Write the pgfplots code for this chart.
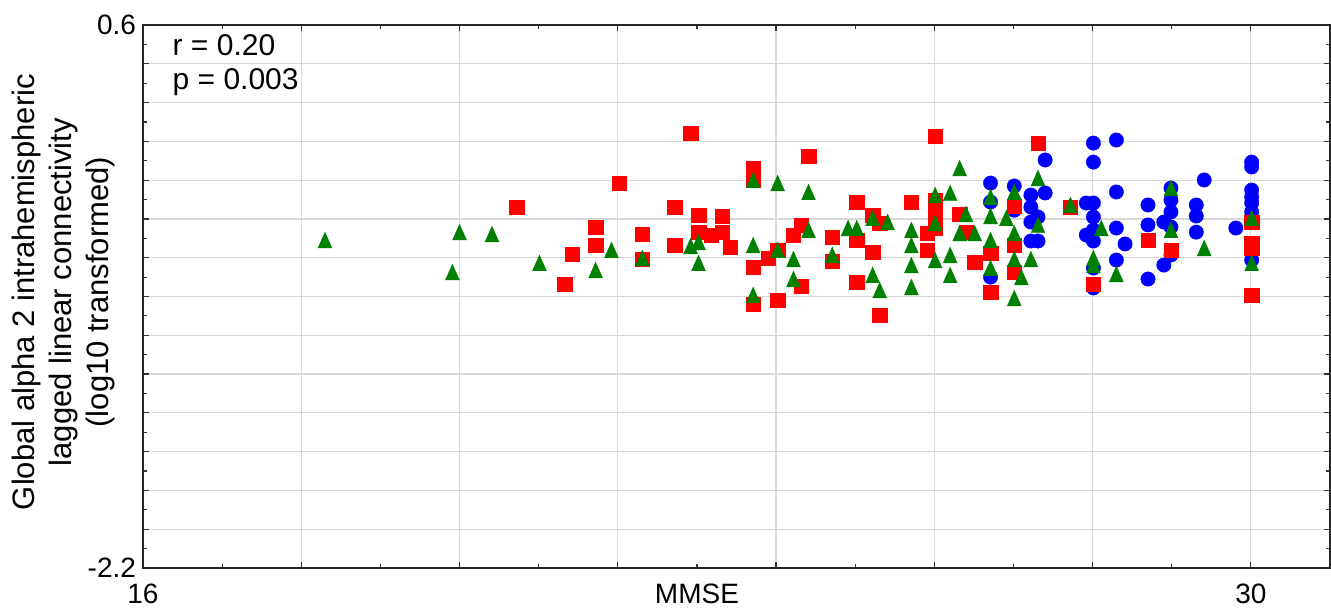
\documentclass[border=0pt]{standalone}
\usepackage{fontspec}
\setmainfont{Liberation Sans}
\usepackage{pgfplots}
\pgfplotsset{compat=1.18}
\usetikzlibrary{calc}
\definecolor{gridgray}{RGB}{216,216,216}
\definecolor{ptred}{RGB}{255,0,0}
\definecolor{ptgreen}{RGB}{0,128,0}
\definecolor{ptblue}{RGB}{0,0,255}

\begin{document}
\begin{tikzpicture}
\begin{axis}[
  scale only axis, width=593.5pt, height=271.5pt,
  xmin=16, xmax=31, ymin=-2.2, ymax=0.6,
  xtick={16,18,20,22,24,26,28,30}, xticklabels={16,,,,,,,30},
  ytick={-2.2,-2,-1.8,-1.6,-1.4,-1.2,-1,-0.8,-0.6,-0.4,-0.2,0,0.2,0.4,0.6},
  yticklabels={-2.2,,,,,,,,,,,,,,0.6},
  minor x tick num=1, minor y tick num=1,
  grid=major, grid style={gridgray, line width=0.6pt},
  axis line style={black!85, line width=1pt},
  major tick length=3pt, minor tick length=1.8pt,
  tick style={black!80, line width=0.6pt},
  tick label style={font=\fontsize{14}{16}\selectfont},
  xticklabel style={yshift=-4.5pt},
  extra x ticks={23}, extra x tick labels={MMSE},
  extra x tick style={grid=none, major tick length=0pt},
  ylabel={Global alpha 2 intrahemispheric\\lagged linear connectivity\\(log10 transformed)},
  ylabel style={align=center, font=\fontsize{15.5}{18.5}\selectfont,
    at={(axis description cs:0,0.5)}, anchor=south, inner sep=0pt, yshift=14pt, xshift=2.2pt},
  clip=false,
]
% MMSE in the upper range: blue circles
\addplot[only marks, mark=*, mark size=3.6pt, mark options={draw=ptblue, fill=ptblue, line width=0.2pt}]
  coordinates {
  (26.71,-0.215) (26.71,-0.313) (26.71,-0.700)
  (27.01,-0.230) (27.01,-0.355)
  (27.40,-0.096) (27.40,-0.266) (27.22,-0.277) (27.22,-0.339) (27.22,-0.416)
  (27.31,-0.390) (27.22,-0.514) (27.31,-0.514)
  (28.01,-0.009) (28.01,-0.107) (28.30,0.007)
  (27.92,-0.318) (28.01,-0.318) (28.01,-0.390) (28.01,-0.457) (27.92,-0.483)
  (28.01,-0.514) (28.01,-0.653) (28.01,-0.756)
  (28.30,-0.261) (28.30,-0.447) (28.41,-0.529) (28.30,-0.612)
  (28.70,-0.328) (28.70,-0.431) (28.70,-0.710)
  (28.99,-0.241) (28.99,-0.303) (28.99,-0.364) (28.90,-0.416) (28.99,-0.442)
  (28.99,-0.586) (28.90,-0.638)
  (29.41,-0.199) (29.31,-0.328) (29.31,-0.385) (29.31,-0.468)
  (29.81,-0.447)
  (30.01,-0.107) (30.01,-0.132) (30.01,-0.251) (30.01,-0.287) (30.01,-0.318)
  (30.01,-0.364) (30.01,-0.612)
  };
% red squares
\addplot[only marks, mark=square*, mark size=3.6pt, mark options={draw=ptred, fill=ptred, line width=0.2pt}]
  coordinates {
  (20.72,-0.339) (22.02,-0.215) (21.72,-0.442) (21.72,-0.535) (21.42,-0.581)
  (21.33,-0.736) (22.31,-0.478) (22.31,-0.607)
  (22.92,0.043) (22.72,-0.339) (22.72,-0.535) (23.02,-0.380) (23.02,-0.468)
  (23.18,-0.483) (23.32,-0.385) (23.32,-0.468) (23.42,-0.545)
  (23.71,-0.138) (23.71,-0.199) (24.41,-0.076) (23.71,-0.648) (23.90,-0.602)
  (24.02,-0.560) (24.22,-0.483) (24.32,-0.431) (24.32,-0.746) (23.71,-0.839)
  (24.02,-0.818)
  (26.01,0.028) (25.02,-0.313) (25.22,-0.380) (25.31,-0.421) (25.71,-0.313)
  (26.01,-0.303) (26.01,-0.380) (26.01,-0.447) (25.91,-0.473) (25.91,-0.560)
  (26.32,-0.375) (26.40,-0.468) (26.51,-0.622)
  (24.71,-0.493) (24.71,-0.617) (25.02,-0.509) (25.22,-0.571) (25.02,-0.725)
  (25.31,-0.896)
  (26.71,-0.576) (26.71,-0.777) (27.01,-0.333) (27.01,-0.535) (27.01,-0.674)
  (27.31,-0.009) (27.72,-0.339) (28.01,-0.736)
  (28.70,-0.509) (28.99,-0.560)
  (30.01,-0.416) (30.01,-0.524) (30.01,-0.550) (30.01,-0.792)
  };
% green triangles
\addplot[only marks, mark=triangle*, mark size=4pt, mark options={draw=ptgreen, fill=ptgreen, line width=0.2pt, yshift=-1.3pt, yscale=1.3}]
  coordinates {
  (18.30,-0.509) (20.00,-0.468) (19.91,-0.674) (20.41,-0.478)
  (21.92,-0.560) (21.01,-0.627) (21.72,-0.664) (22.31,-0.602)
  (22.92,-0.540) (23.02,-0.519) (23.02,-0.627)
  (23.71,-0.199) (24.02,-0.215) (24.41,-0.261)
  (23.71,-0.535) (24.02,-0.560) (24.41,-0.457) (24.22,-0.607) (24.22,-0.710)
  (23.71,-0.792)
  (24.71,-0.586) (24.91,-0.447) (25.02,-0.447) (25.22,-0.395) (25.41,-0.416)
  (25.22,-0.689) (25.31,-0.767)
  (25.71,-0.457) (25.71,-0.535) (25.71,-0.638) (25.71,-0.751)
  (26.01,-0.277) (26.01,-0.421) (26.01,-0.612)
  (26.32,-0.138) (26.20,-0.266) (26.40,-0.375) (26.32,-0.473) (26.51,-0.473)
  (26.20,-0.586) (26.20,-0.689)
  (26.71,-0.287) (26.71,-0.385) (26.71,-0.509) (26.71,-0.653)
  (26.91,-0.395) (27.01,-0.261) (27.01,-0.473) (27.01,-0.607) (27.10,-0.700)
  (27.01,-0.808)
  (27.31,-0.189) (27.31,-0.431) (27.22,-0.607)
  (27.72,-0.328) (28.11,-0.447) (28.01,-0.602) (28.01,-0.638) (28.30,-0.684)
  (28.99,-0.241) (28.99,-0.457) (29.41,-0.550)
  (30.01,-0.395) (30.01,-0.627)
  };
\node[anchor=base west, font=\fontsize{15}{18}\selectfont, inner sep=0pt] at (axis cs:16.37,0.445) {r = 0.20};
\node[anchor=base west, font=\fontsize{15}{18}\selectfont, inner sep=0pt] at (axis cs:16.37,0.265) {p = 0.003};
\end{axis}
\pgfresetboundingbox
\path[use as bounding box] ($(current axis.south west)+(-71.5pt,-21.5pt)$) rectangle ($(current axis.north east)+(0.5pt,12.5pt)$);
\end{tikzpicture}
\end{document}
